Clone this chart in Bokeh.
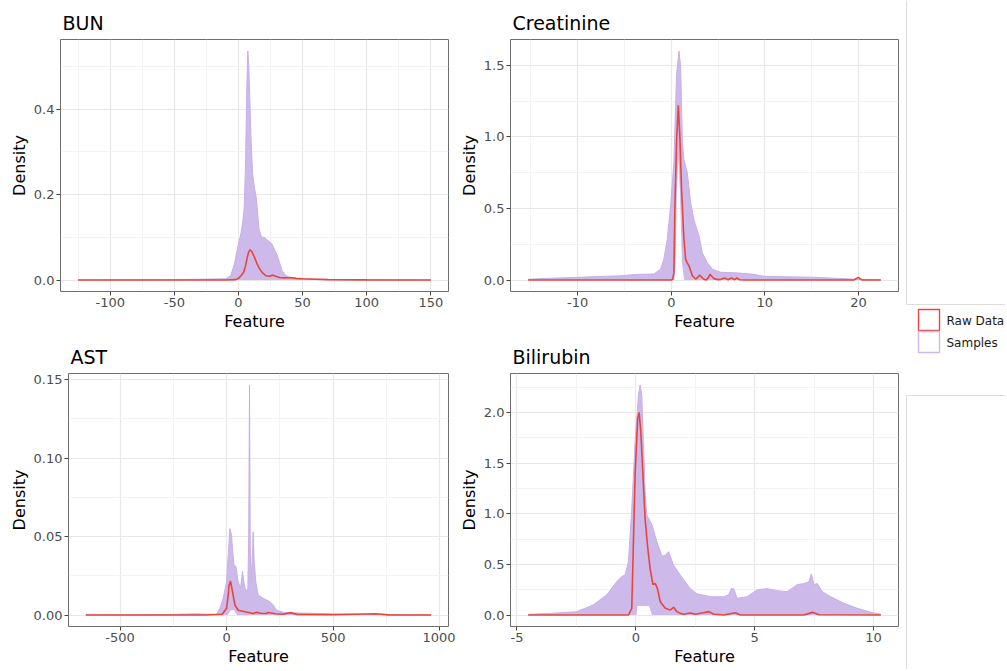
import numpy as np
from bokeh.plotting import figure
from bokeh.layouts import row, column
from bokeh.models import Range1d, FixedTicker, NumeralTickFormatter
from bokeh.core.properties import value
from bokeh.embed import file_html
from bokeh.resources import INLINE

# ---------------- data ----------------
titles = ["BUN", "Creatinine", "AST", "Bilirubin"]
legend_labels = ["Raw Data", "Samples"]

# BUN
bun_raw_x = [-125, -50, -10, -2, 0, 2, 4, 5.5, 7, 8, 9.1, 10.5, 12.5, 14.5, 16.5, 19, 21.5, 24,
             26.8, 29, 32, 36, 40, 45, 50, 60, 70, 100, 150]
bun_raw_y = [0, 0, 0, 0.001, 0.004, 0.01, 0.018, 0.033, 0.055, 0.066, 0.071, 0.066, 0.053, 0.038,
             0.026, 0.016, 0.01, 0.009, 0.0115, 0.009, 0.006, 0.005, 0.006, 0.004, 0.003, 0.002,
             0.001, 0.0005, 0]
bun_env_x = [-125, -60, -30, -10, -6, -3, 0, 2, 3.5, 4.5, 5.5, 6.5, 7.3, 8.0, 8.8, 9.8, 11, 12.5,
             14, 16, 18, 20, 22, 24, 26, 28, 30, 32, 34, 37, 40, 50, 60, 80, 100, 150]
bun_env_y = [0, 0.0005, 0.002, 0.003, 0.01, 0.04, 0.085, 0.11, 0.14, 0.17, 0.27, 0.45, 0.536, 0.50,
             0.43, 0.33, 0.25, 0.215, 0.19, 0.12, 0.10, 0.10, 0.095, 0.09, 0.085, 0.072, 0.06,
             0.041, 0.022, 0.01, 0.005, 0.003, 0.002, 0.001, 0.0005, 0]
bun_gap_x = [0, 0]
bun_gap_y = [0, 0]

# Creatinine
cre_raw_x = [-15.3, -5, -1, 0, 0.15, 0.28, 0.39, 0.57, 0.75, 0.93, 1.1, 1.35, 1.53, 1.7, 1.89,
             2.25, 2.6, 2.85, 3.03, 3.25, 3.45, 3.7, 3.95, 4.14, 4.35, 4.57, 5.0, 5.3, 5.7, 6.07,
             6.4, 6.8, 7.0, 7.3, 8, 12, 19.5, 20.0, 20.4, 22.4]
cre_raw_y = [0, 0, 0, 0, 0.005, 0.05, 0.52, 0.98, 1.22, 0.98, 0.63, 0.285, 0.146, 0.12, 0.1,
             0.03, 0.007, 0.02, 0.035, 0.02, 0.007, 0.0, 0.015, 0.04, 0.025, 0.01, 0.003, 0.005,
             0.015, 0.002, 0.015, 0.002, 0.015, 0.002, 0, 0, 0, 0.019, 0, 0]
cre_env_x = [-15.3, -14, -10, -5.4, -3.6, -1.86, -1.15, -0.79, -0.43, -0.07, 0.28, 0.35, 0.57,
             0.82, 1.0, 1.18, 1.35, 1.71, 2.07, 2.42, 2.96, 3.32, 3.86, 4.4, 5.3, 7.1, 8.8, 10,
             15, 20, 22.4]
cre_env_y = [0.005, 0.01, 0.019, 0.03, 0.04, 0.042, 0.076, 0.146, 0.285, 0.52, 0.82, 0.98, 1.44,
             1.60, 1.49, 0.98, 0.84, 0.75, 0.54, 0.42, 0.31, 0.19, 0.12, 0.076, 0.054, 0.05,
             0.04, 0.025, 0.02, 0.005, 0]
cre_gap_x = [0.33, 0.46, 0.6, 0.75, 0.93, 1.14, 1.38]
cre_gap_y = [0, 0.12, 0.6, 0.85, 0.6, 0.12, 0]

# AST
ast_raw_x = [-661, -300, -100, -20, 0, 7.8, 12, 18.7, 28, 39, 55, 86, 125, 141, 160, 187, 195,
             230, 265, 300, 330, 500, 700, 760, 961]
ast_raw_y = [0, 0, 0, 0.0005, 0.0043, 0.0127, 0.019, 0.0216, 0.0148, 0.0064, 0.003, 0.0021,
             0.0009, 0.0018, 0.0011, 0.001, 0.0016, 0.0008, 0.0005, 0.0015, 0.0004, 0.0002,
             0.0008, 0.0001, 0]
ast_env_x = [-661, -300, -150, -47, -31, -16, 0, 7.8, 15.6, 23.4, 28, 34.4, 43.8, 54.7, 65.6, 75,
             81, 90.6, 100, 104, 107.8, 111, 114, 120, 125, 129.7, 137.5, 148, 172, 203, 219,
             234, 265, 350, 500, 700, 961]
ast_env_y = [0, 0.0002, 0.0008, 0.0004, 0.0043, 0.0106, 0.021, 0.038, 0.055, 0.051, 0.042, 0.032,
             0.031, 0.021, 0.0171, 0.0276, 0.021, 0.0148, 0.017, 0.05, 0.1465, 0.05, 0.021,
             0.034, 0.053, 0.034, 0.021, 0.0127, 0.0106, 0.0085, 0.0064, 0.0032, 0.0017, 0.0012,
             0.0008, 0.0003, 0]
ast_gap_x = [5, 20, 35, 50]
ast_gap_y = [0, 0.003, 0.003, 0]

# Bilirubin
bil_raw_x = [-4.53, -0.31, -0.17, -0.1, -0.03, 0.08, 0.14, 0.21, 0.30, 0.39, 0.49, 0.60, 0.72,
             0.82, 0.91, 1.03, 1.24, 1.45, 1.59, 1.73, 1.87, 2.01, 2.29, 2.5, 2.78, 3.07, 3.28,
             3.7, 4.19, 4.4, 7.07, 7.43, 7.71, 10.31]
bil_raw_y = [0, 0, 0.066, 0.72, 1.38, 1.94, 2.0, 1.81, 1.38, 0.955, 0.69, 0.46, 0.30, 0.31,
             0.26, 0.13, 0.066, 0.05, 0.076, 0.033, 0.016, 0.007, 0.02, 0.007, 0.02, 0.033,
             0.007, 0.0, 0.023, 0.0, 0.0, 0.026, 0.003, 0]
bil_env_x = [-4.53, -3.61, -2.49, -1.79, -1.22, -0.8, -0.59, -0.45, -0.31, -0.17, -0.03, 0.11,
             0.18, 0.25, 0.32, 0.39, 0.46, 0.68, 0.89, 1.10, 1.24, 1.38, 1.59, 1.87, 2.29, 2.57,
             3.14, 3.70, 3.91, 4.01, 4.12, 4.26, 4.68, 5.11, 5.53, 5.95, 6.37, 6.79, 7.07, 7.29,
             7.38, 7.50, 7.64, 7.85, 8.20, 8.76, 9.32, 9.89, 10.31]
bil_env_y = [0.007, 0.016, 0.033, 0.1, 0.2, 0.33, 0.38, 0.395, 0.53, 1.05, 1.71, 2.17, 2.27,
             2.17, 1.71, 1.22, 0.99, 0.89, 0.72, 0.58, 0.59, 0.626, 0.49, 0.395, 0.26, 0.21,
             0.18, 0.18, 0.2, 0.26, 0.26, 0.165, 0.18, 0.25, 0.26, 0.24, 0.23, 0.3, 0.31, 0.33,
             0.405, 0.3, 0.31, 0.23, 0.18, 0.115, 0.066, 0.026, 0.007]
bil_gap_x = [0.03, 0.07, 0.55, 0.68]
bil_gap_y = [0, 0.088, 0.088, 0]

# tick labels
bun_xticks = [-100, -50, 0, 50, 100, 150]
bun_yticks = [0.0, 0.2, 0.4]
cre_xticks = [-10, 0, 10, 20]
cre_yticks = [0.0, 0.5, 1.0, 1.5]
ast_xticks = [-500, 0, 500, 1000]
ast_yticks = [0.00, 0.05, 0.10, 0.15]
bil_xticks = [-5, 0, 5, 10]
bil_yticks = [0.0, 0.5, 1.0, 1.5, 2.0]

# ---------------- styling ----------------
PURPLE = "#CDB9EA"
RED = "#E8453F"
FONT = "DejaVu Sans"


def minor_between(ticks, lo, hi):
    step = ticks[1] - ticks[0]
    cands = [ticks[0] - step / 2] + [t + step / 2 for t in ticks]
    return [c for c in cands if lo <= c <= hi]


def panel(title, width, height, borders, raw_x, raw_y, env_x, env_y, gap_x, gap_y,
          xticks, yticks, yfmt):
    xmin, xmax = min(raw_x + env_x), max(raw_x + env_x)
    ymin, ymax = 0.0, max(raw_y + env_y)
    dx, dy = 0.05 * (xmax - xmin), 0.05 * (ymax - ymin)
    xr = (xmin - dx, xmax + dx)
    yr = (ymin - dy, ymax + dy)
    left, right, top, bottom = borders
    p = figure(width=width, height=height, output_backend="svg", toolbar_location=None,
               x_range=Range1d(*xr), y_range=Range1d(*yr),
               min_border_left=left, min_border_right=right,
               min_border_top=top, min_border_bottom=bottom,
               background_fill_color="white", border_fill_color="white")
    p.title.text = title
    p.title.text_font = FONT
    p.title.text_font_size = "19px"
    p.title.text_font_style = "normal"
    p.title.text_color = "black"
    p.title.standoff = 11
    p.title.offset = 2

    xs = sorted(set(env_x) | set(gap_x))
    hi = np.interp(xs, env_x, env_y)
    lo = np.minimum(np.interp(xs, gap_x, gap_y, left=0, right=0), hi)
    p.varea(x=xs, y1=lo, y2=hi, fill_color=PURPLE, fill_alpha=1.0)
    p.line(env_x, env_y, line_color="#C6B0E6", line_width=1)
    p.line(raw_x, raw_y, line_color=RED, line_width=1.6)

    p.xaxis.ticker = FixedTicker(ticks=xticks, minor_ticks=minor_between(xticks, *xr))
    p.yaxis.ticker = FixedTicker(ticks=yticks, minor_ticks=minor_between(yticks, *yr))
    p.xaxis.formatter = NumeralTickFormatter(format="0")
    p.yaxis.formatter = NumeralTickFormatter(format=yfmt)
    p.xaxis.axis_label = "Feature"
    p.yaxis.axis_label = "Density"
    for ax in (p.xaxis, p.yaxis):
        ax.axis_line_color = None
        ax.major_tick_line_color = "#444444"
        ax.major_tick_in = 0
        ax.major_tick_out = 4
        ax.minor_tick_line_color = None
        ax.major_label_text_font = FONT
        ax.major_label_text_font_size = "13px"
        ax.major_label_text_color = "#4D4D4D"
        ax.major_label_standoff = 2
        ax.axis_label_text_font = FONT
        ax.axis_label_text_font_size = "16px"
        ax.axis_label_text_font_style = "normal"
        ax.axis_label_text_color = "black"
        ax.axis_label_standoff = 2
    p.grid.grid_line_color = "#E8E8E8"
    p.grid.grid_line_width = 1.2
    p.grid.minor_grid_line_color = "#F3F3F3"
    p.grid.minor_grid_line_width = 1
    p.outline_line_color = "#6E6E6E"
    p.outline_line_width = 1
    return p


# row 1 occupies y 0..333, row 2 y 333..669 (page origin at 0,0)
p1 = panel(titles[0], 455, 333, (60, 7, 39, 41), bun_raw_x, bun_raw_y, bun_env_x, bun_env_y,
           bun_gap_x, bun_gap_y, bun_xticks, bun_yticks, "0.0")
p2 = panel(titles[1], 450, 333, (55, 7, 39, 41), cre_raw_x, cre_raw_y, cre_env_x, cre_env_y,
           cre_gap_x, cre_gap_y, cre_xticks, cre_yticks, "0.0")
p3 = panel(titles[2], 455, 336, (68, 7, 40, 43), ast_raw_x, ast_raw_y, ast_env_x, ast_env_y,
           ast_gap_x, ast_gap_y, ast_xticks, ast_yticks, "0.00")
p4 = panel(titles[3], 450, 336, (55, 7, 40, 43), bil_raw_x, bil_raw_y, bil_env_x, bil_env_y,
           bil_gap_x, bil_gap_y, bil_xticks, bil_yticks, "0.0")

# legend panel
LW, LH = 100, 669
lf = figure(width=LW, height=LH, output_backend="svg", toolbar_location=None,
            x_range=Range1d(0, LW), y_range=Range1d(LH, 0), min_border=0,
            background_fill_color="white", border_fill_color="white")
lf.axis.visible = False
lf.grid.visible = False
lf.outline_line_color = None
lf.segment(x0=[1, 1, 1, 1], y0=[0, 304, 395, 395], x1=[1, LW, LW, 1], y1=[304, 304, 395, LH],
           line_color="#DDDDDD", line_width=1)
lf.quad(left=[13, 13], right=[34, 34], top=[309, 331], bottom=[330, 352],
        fill_color=None, line_color=[RED, PURPLE], line_width=1.4)
lf.text(x=[41, 41], y=[320, 342], text=legend_labels, text_font_size="12px",
        text_baseline="middle", text_align="left", text_color="#1A1A1A",
        text_font=value(FONT))

layout = row(column(row(p1, p2), row(p3, p4)), lf)

open("out.html", "w").write(file_html(layout, INLINE))
